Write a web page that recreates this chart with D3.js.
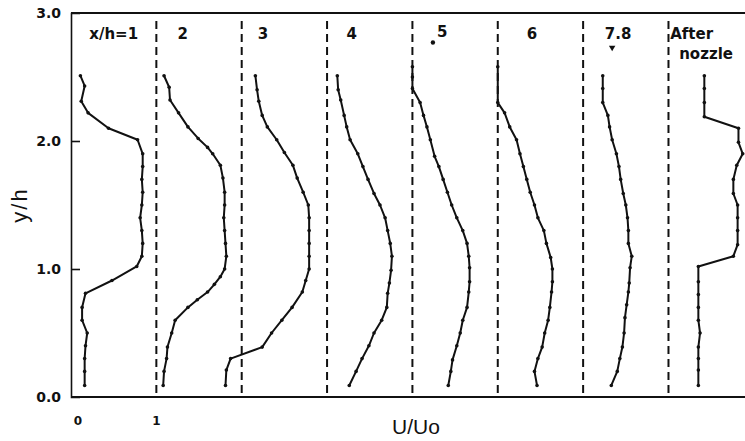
<!DOCTYPE html>
<html>
<head>
<meta charset="utf-8">
<script src="https://cdn.jsdelivr.net/npm/d3@7"></script>
<style>
  html, body { margin: 0; padding: 0; background: #fff; }
  svg { display: block; }
</style>
</head>
<body>
<svg id="chart" width="745" height="441"></svg>
<script>
// Velocity profiles U/Uo against height y/h at successive stations x/h.
// Each profile is drawn with its own origin shifted by one unit of U/Uo.
const stationLabels = ["x/h=1", "2", "3", "4", "5", "6", "7.8", "After|nozzle"];
const stationOffsets = [0, 1, 2, 3, 4, 5, 6, 7];
const dividerValues = [1, 2, 3, 4, 5, 6, 7];
const yTickValues = [0, 1, 2, 3];
const xTickValues = [0, 1];
const xTickLabels = ["0", "1"];

// [U/Uo, y/h] pairs, one array per station
const profileX1 = [[0.11,2.51],[0.16,2.43],[0.12,2.31],[0.20,2.22],[0.44,2.10],[0.78,2.01],[0.84,1.90],[0.84,1.80],[0.83,1.70],[0.84,1.60],[0.83,1.50],[0.81,1.40],[0.83,1.30],[0.84,1.20],[0.83,1.10],[0.77,1.02],[0.48,0.91],[0.17,0.81],[0.13,0.70],[0.13,0.60],[0.19,0.50],[0.17,0.40],[0.16,0.30],[0.16,0.20],[0.16,0.09]];
const profileX2 = [[0.09,2.51],[0.15,2.42],[0.16,2.32],[0.26,2.22],[0.37,2.11],[0.49,2.02],[0.60,1.95],[0.66,1.90],[0.75,1.81],[0.78,1.71],[0.80,1.60],[0.80,1.50],[0.79,1.40],[0.80,1.30],[0.81,1.20],[0.82,1.10],[0.80,1.00],[0.75,0.94],[0.68,0.88],[0.60,0.82],[0.48,0.76],[0.37,0.70],[0.22,0.60],[0.18,0.50],[0.13,0.39],[0.12,0.30],[0.09,0.20],[0.08,0.09]];
const profileX3 = [[0.16,2.51],[0.18,2.40],[0.20,2.31],[0.24,2.20],[0.30,2.11],[0.41,2.01],[0.50,1.91],[0.60,1.81],[0.65,1.71],[0.72,1.60],[0.78,1.50],[0.79,1.40],[0.79,1.30],[0.79,1.20],[0.79,1.10],[0.79,1.00],[0.75,0.91],[0.71,0.82],[0.59,0.70],[0.47,0.60],[0.35,0.50],[0.24,0.39],[-0.13,0.30],[-0.18,0.21],[-0.19,0.09]];
const profileX4 = [[0.12,2.51],[0.13,2.40],[0.16,2.32],[0.20,2.20],[0.23,2.11],[0.27,2.01],[0.36,1.90],[0.42,1.80],[0.48,1.70],[0.55,1.59],[0.62,1.50],[0.68,1.40],[0.71,1.30],[0.74,1.20],[0.76,1.10],[0.75,0.99],[0.73,0.89],[0.71,0.81],[0.70,0.70],[0.64,0.60],[0.55,0.50],[0.49,0.40],[0.41,0.30],[0.34,0.20],[0.26,0.09]];
const profileX5 = [[0.00,2.58],[0.00,2.50],[0.00,2.41],[0.09,2.30],[0.13,2.20],[0.17,2.11],[0.21,2.01],[0.26,1.88],[0.31,1.80],[0.36,1.70],[0.41,1.60],[0.46,1.50],[0.52,1.40],[0.59,1.30],[0.64,1.20],[0.66,1.10],[0.67,1.01],[0.67,0.90],[0.66,0.82],[0.64,0.70],[0.59,0.60],[0.56,0.50],[0.52,0.40],[0.47,0.29],[0.45,0.20],[0.42,0.09]];
const profileX6 = [[0.00,2.58],[0.00,2.30],[0.08,2.22],[0.14,2.11],[0.22,2.01],[0.26,1.90],[0.30,1.80],[0.34,1.70],[0.38,1.60],[0.43,1.50],[0.47,1.40],[0.54,1.30],[0.57,1.20],[0.62,1.09],[0.64,1.00],[0.64,0.90],[0.63,0.82],[0.61,0.70],[0.59,0.60],[0.55,0.50],[0.52,0.39],[0.47,0.30],[0.43,0.20],[0.46,0.09]];
const profileX78 = [[0.23,2.51],[0.23,2.41],[0.23,2.30],[0.29,2.20],[0.31,2.11],[0.34,2.01],[0.39,1.90],[0.42,1.80],[0.44,1.70],[0.47,1.59],[0.50,1.50],[0.52,1.40],[0.53,1.30],[0.53,1.20],[0.57,1.10],[0.55,1.01],[0.54,0.89],[0.53,0.82],[0.51,0.72],[0.49,0.62],[0.48,0.50],[0.46,0.39],[0.43,0.30],[0.40,0.20],[0.33,0.09]];
const profileNozzle = [[0.42,2.51],[0.42,2.41],[0.42,2.30],[0.42,2.19],[0.82,2.10],[0.82,1.99],[0.87,1.90],[0.80,1.81],[0.76,1.70],[0.76,1.59],[0.81,1.50],[0.81,1.40],[0.81,1.30],[0.81,1.19],[0.76,1.10],[0.35,1.02],[0.35,0.90],[0.35,0.80],[0.35,0.70],[0.35,0.60],[0.37,0.50],[0.35,0.39],[0.35,0.30],[0.35,0.21],[0.35,0.09]];

const profiles = [profileX1, profileX2, profileX3, profileX4, profileX5, profileX6, profileX78, profileNozzle];

const svg = d3.select("#chart");
const ink = "#111";

const x = d3.scaleLinear().domain([0, 7.9]).range([71, 745.3]);
const y = d3.scaleLinear().domain([0, 3]).range([397, 13]);

const labelFont = "'DejaVu Sans', sans-serif";

// frame: top border and bottom axis line
svg.append("line")
  .attr("x1", x(0)).attr("x2", 745).attr("y1", y(3)).attr("y2", y(3))
  .attr("stroke", ink).attr("stroke-width", 2);
svg.append("line")
  .attr("x1", x(0)).attr("x2", 745).attr("y1", y(0)).attr("y2", y(0))
  .attr("stroke", ink).attr("stroke-width", 2);

// station dividers
svg.append("g").selectAll("line").data(dividerValues).join("line")
  .attr("x1", d => x(d)).attr("x2", d => x(d))
  .attr("y1", y(3) + 8).attr("y2", y(0))
  .attr("stroke", ink).attr("stroke-width", 2)
  .attr("stroke-dasharray", "8,5");

// y axis with inward ticks
const yAxis = d3.axisLeft(y).tickValues(yTickValues).tickSize(-9).tickPadding(10)
  .tickFormat(d3.format(".1f"));
const gy = svg.append("g").attr("transform", `translate(${x(0)},0)`).call(yAxis);
gy.select(".domain").attr("stroke", ink).attr("stroke-width", 1.6);
gy.selectAll(".tick line").attr("stroke", ink).attr("stroke-width", 1.6)
  .attr("display", d => (d === 0 || d === 3) ? "none" : null);
gy.selectAll(".tick text")
  .attr("font-family", labelFont).attr("font-weight", "bold").attr("font-size", 14)
  .attr("fill", ink).attr("dy", "0.35em");

// x tick labels
svg.append("g").selectAll("text").data(xTickValues).join("text")
  .attr("x", (d, i) => x(d) + (i === 0 ? 7 : 0))
  .attr("y", 425)
  .attr("text-anchor", "middle")
  .attr("font-family", labelFont).attr("font-weight", "bold").attr("font-size", 12)
  .attr("fill", ink)
  .text((d, i) => xTickLabels[i]);

// axis titles
svg.append("text")
  .attr("x", 416).attr("y", 434)
  .attr("text-anchor", "middle")
  .attr("font-family", "'Liberation Sans', Arial, sans-serif").attr("font-size", 21)
  .attr("fill", ink).text("U/Uo");
svg.append("text")
  .attr("transform", `translate(27,${y(1.5)}) rotate(-90)`)
  .attr("text-anchor", "middle")
  .attr("font-family", "'Liberation Sans', Arial, sans-serif").attr("font-size", 22)
  .attr("letter-spacing", 2)
  .attr("fill", ink).text("y/h");

// profiles
const line = d3.line();
profiles.forEach((pts, i) => {
  const off = stationOffsets[i];
  const g = svg.append("g");
  g.append("path")
    .attr("d", line(pts.map(p => [x(off + p[0]), y(p[1])])))
    .attr("fill", "none").attr("stroke", ink).attr("stroke-width", 2)
    .attr("stroke-linejoin", "round");
  g.selectAll("circle").data(pts).join("circle")
    .attr("cx", p => x(off + p[0])).attr("cy", p => y(p[1]))
    .attr("r", 1.8).attr("fill", ink);
});

// station labels
const labelPos = [
  { u: 0.50, v: 2.80 }, { u: 1.31, v: 2.80 }, { u: 2.25, v: 2.80 }, { u: 3.29, v: 2.80 },
  { u: 4.35, v: 2.81 }, { u: 5.40, v: 2.80 }, { u: 6.41, v: 2.80 }, { u: 7.02, v: 2.80 }
];
stationLabels.forEach((lab, i) => {
  const parts = lab.split("|");
  const t = svg.append("text")
    .attr("x", x(labelPos[i].u)).attr("y", y(labelPos[i].v))
    .attr("text-anchor", i === 7 ? "start" : "middle")
    .attr("font-family", labelFont).attr("font-weight", "bold").attr("font-size", 15)
    .attr("fill", ink);
  parts.forEach((p, k) => {
    t.append("tspan")
      .attr("x", x(labelPos[i].u) + (k === 1 ? 9 : 0))
      .attr("dy", k === 0 ? 0 : 20)
      .text(p);
  });
});

// small marks beside the "5" and "7.8" labels
svg.append("circle").attr("cx", x(4.24)).attr("cy", y(2.77)).attr("r", 2.2).attr("fill", ink);
svg.append("path")
  .attr("d", d3.symbol().type(d3.symbolTriangle).size(18)())
  .attr("transform", `translate(${x(6.34)},${y(2.73)}) rotate(180)`)
  .attr("fill", ink);
</script>
</body>
</html>
